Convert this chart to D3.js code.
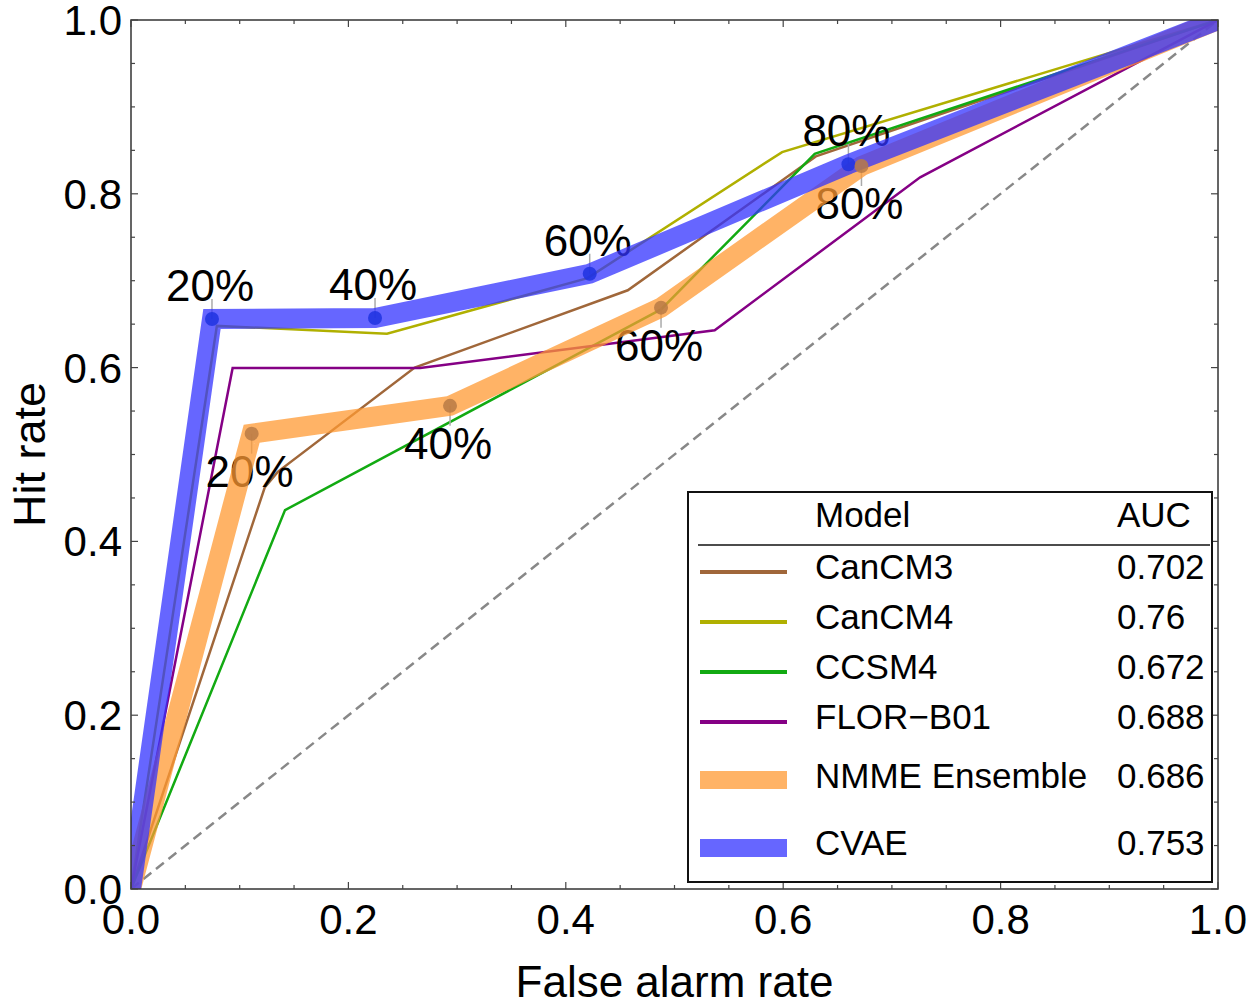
<!DOCTYPE html>
<html>
<head>
<meta charset="utf-8">
<script src="https://cdn.jsdelivr.net/npm/d3@7"></script>
<style>
  html, body { margin: 0; padding: 0; background: #fff; }
  svg { display: block; font-family: "Liberation Sans", Arial, Helvetica, sans-serif; }
</style>
</head>
<body>
<svg id="chart" width="1260" height="1003"></svg>
<script>
// ---- data ----
const models = ["CanCM3", "CanCM4", "CCSM4", "FLOR\u2212B01", "NMME Ensemble", "CVAE"];
const aucValues = ["0.702", "0.76", "0.672", "0.688", "0.686", "0.753"];
const canCM3FAR = [0, 0.123, 0.135, 0.261, 0.457, 0.630, 1];
const canCM3HR  = [0, 0.462, 0.480, 0.600, 0.689, 0.843, 1];
const canCM4FAR = [0, 0.079, 0.2355, 0.420, 0.599, 1];
const canCM4HR  = [0, 0.648, 0.639, 0.703, 0.848, 1];
const ccsm4FAR  = [0, 0.1417, 0.4876, 0.629, 1];
const ccsm4HR   = [0, 0.436, 0.667, 0.846, 1];
const florFAR   = [0, 0.0935, 0.266, 0.537, 0.726, 1];
const florHR    = [0, 0.5995, 0.5995, 0.643, 0.819, 1];
const nmmeFAR   = [0, 0.111, 0.2935, 0.4876, 0.672, 1];
const nmmeHR    = [0, 0.524, 0.556, 0.669, 0.832, 1];
const cvaeFAR   = [0, 0.0745, 0.2245, 0.422, 0.660, 1];
const cvaeHR    = [0, 0.656, 0.657, 0.708, 0.834, 1];
const thresholdLabels = ["20%", "40%", "60%", "80%"];
const majorTicks = [0, 0.2, 0.4, 0.6, 0.8, 1.0];
const tickLabels = ["0.0", "0.2", "0.4", "0.6", "0.8", "1.0"];

// ---- styles ----
const thinColors = ["#a0673a", "#b0b000", "#12aa12", "#850085"];
const nmmeColor = "#ff9933";
const cvaeColor = "#3333ff";

const svg = d3.select("#chart");
const x = d3.scaleLinear().domain([0, 1]).range([131, 1218]);
const y = d3.scaleLinear().domain([0, 1]).range([889, 20]);

const zip = (a, b) => a.map((v, i) => [v, b[i]]);
const line = d3.line().x(d => x(d[0])).y(d => y(d[1]));

svg.append("clipPath").attr("id", "clip").append("rect")
  .attr("x", x(0)).attr("y", y(1)).attr("width", x(1) - x(0)).attr("height", y(0) - y(1));

const plot = svg.append("g").attr("clip-path", "url(#clip)");

// diagonal
plot.append("path").datum([[0, 0], [1, 1]]).attr("d", line)
  .attr("fill", "none").attr("stroke", "#888").attr("stroke-width", 2.5)
  .attr("stroke-dasharray", "10,6");

// thin series
const thinSeries = [zip(canCM3FAR, canCM3HR), zip(canCM4FAR, canCM4HR), zip(ccsm4FAR, ccsm4HR), zip(florFAR, florHR)];
thinSeries.forEach((s, i) => {
  plot.append("path").datum(s).attr("d", line)
    .attr("fill", "none").attr("stroke", thinColors[i]).attr("stroke-width", 2.5)
    .attr("stroke-linejoin", "miter");
});

const nmme = zip(nmmeFAR, nmmeHR);
const cvae = zip(cvaeFAR, cvaeHR);
const nmmePts = nmme.slice(1, 5);
const cvaePts = cvae.slice(1, 5);

// callout lines + labels (drawn under the thick bands)
const labelG = svg.append("g");
cvaePts.forEach((p, i) => {
  labelG.append("line").attr("x1", x(p[0])).attr("x2", x(p[0]))
    .attr("y1", y(p[1])).attr("y2", y(p[1]) - 20)
    .attr("stroke", "#aaa").attr("stroke-width", 1.5);
  labelG.append("text").attr("x", x(p[0]) - 2).attr("y", y(p[1]) - 18)
    .attr("text-anchor", "middle").attr("font-size", 44).attr("fill", "#000")
    .text(thresholdLabels[i]);
});
nmmePts.forEach((p, i) => {
  labelG.append("line").attr("x1", x(p[0])).attr("x2", x(p[0]))
    .attr("y1", y(p[1])).attr("y2", y(p[1]) + 20)
    .attr("stroke", "#aaa").attr("stroke-width", 1.5);
  labelG.append("text").attr("x", x(p[0]) - 2).attr("y", y(p[1]) + 53)
    .attr("text-anchor", "middle").attr("font-size", 44).attr("fill", "#000")
    .text(thresholdLabels[i]);
});

// thick bands
const bandG = svg.append("g").attr("clip-path", "url(#clip)");
bandG.append("path").datum(nmme).attr("d", line)
  .attr("fill", "none").attr("stroke", nmmeColor).attr("stroke-opacity", 0.75)
  .attr("stroke-width", 20).attr("stroke-linejoin", "miter");
bandG.append("path").datum(cvae).attr("d", line)
  .attr("fill", "none").attr("stroke", cvaeColor).attr("stroke-opacity", 0.75)
  .attr("stroke-width", 20).attr("stroke-linejoin", "miter");

// dots
cvaePts.forEach(p => {
  svg.append("circle").attr("cx", x(p[0])).attr("cy", y(p[1])).attr("r", 7)
    .attr("fill", "#1f33e0").attr("fill-opacity", 0.85);
});
nmmePts.forEach(p => {
  svg.append("circle").attr("cx", x(p[0])).attr("cy", y(p[1])).attr("r", 7)
    .attr("fill", "#b97a45").attr("fill-opacity", 0.85);
});

// frame + ticks
const frame = svg.append("g");
frame.append("rect").attr("x", x(0)).attr("y", y(1))
  .attr("width", x(1) - x(0)).attr("height", y(0) - y(1))
  .attr("fill", "none").attr("stroke", "#333").attr("stroke-width", 1.5);

const minorTicks = d3.range(0, 1.0001, 0.05).filter(v => Math.abs(Math.round(v * 5) - v * 5) > 1e-6);
const tickStroke = "#444";
function ticks(vals, len) {
  vals.forEach(v => {
    frame.append("line").attr("x1", x(v)).attr("x2", x(v)).attr("y1", y(0)).attr("y2", y(0) - len).attr("stroke", tickStroke).attr("stroke-width", 1.2);
    frame.append("line").attr("x1", x(v)).attr("x2", x(v)).attr("y1", y(1)).attr("y2", y(1) + len).attr("stroke", tickStroke).attr("stroke-width", 1.2);
    frame.append("line").attr("y1", y(v)).attr("y2", y(v)).attr("x1", x(0)).attr("x2", x(0) + len).attr("stroke", tickStroke).attr("stroke-width", 1.2);
    frame.append("line").attr("y1", y(v)).attr("y2", y(v)).attr("x1", x(1)).attr("x2", x(1) - len).attr("stroke", tickStroke).attr("stroke-width", 1.2);
  });
}
ticks(majorTicks, 7);
ticks(minorTicks, 4);

// tick labels
majorTicks.forEach((v, i) => {
  svg.append("text").attr("x", x(v)).attr("y", y(0) + 45)
    .attr("text-anchor", "middle").attr("font-size", 42).text(tickLabels[i]);
  svg.append("text").attr("x", x(0) - 9).attr("y", y(v) + 15)
    .attr("text-anchor", "end").attr("font-size", 42).text(tickLabels[i]);
});

// axis titles
svg.append("text").attr("x", (x(0) + x(1)) / 2).attr("y", 997)
  .attr("text-anchor", "middle").attr("font-size", 44).text("False alarm rate");
svg.append("text").attr("transform", `translate(45,${(y(0) + y(1)) / 2}) rotate(-90)`)
  .attr("text-anchor", "middle").attr("font-size", 45).text("Hit rate");

// legend
const lg = svg.append("g");
lg.append("rect").attr("x", 688).attr("y", 492).attr("width", 524).attr("height", 390)
  .attr("fill", "#fff").attr("stroke", "#111").attr("stroke-width", 2);
lg.append("text").attr("x", 815).attr("y", 527).attr("font-size", 35).text("Model");
lg.append("text").attr("x", 1117).attr("y", 527).attr("font-size", 35).text("AUC");
lg.append("line").attr("x1", 698).attr("x2", 1210).attr("y1", 545).attr("y2", 545)
  .attr("stroke", "#111").attr("stroke-width", 1.5);
const rowY = [572, 622, 672, 722, 780, 848];
const swatchColors = thinColors.concat([nmmeColor, cvaeColor]);
const swatchW = [4, 4, 4, 4, 18, 18];
models.forEach((m, i) => {
  lg.append("line").attr("x1", 700).attr("x2", 787).attr("y1", rowY[i]).attr("y2", rowY[i])
    .attr("stroke", swatchColors[i]).attr("stroke-width", swatchW[i])
    .attr("stroke-opacity", i >= 4 ? 0.75 : 1);
  lg.append("text").attr("x", 815).attr("y", rowY[i] + 7 + (i === 4 ? 1 : 0))
    .attr("font-size", 35).text(m);
  lg.append("text").attr("x", 1117).attr("y", rowY[i] + 7 + (i === 4 ? 1 : 0))
    .attr("font-size", 35).text(aucValues[i]);
});
</script>
</body>
</html>
